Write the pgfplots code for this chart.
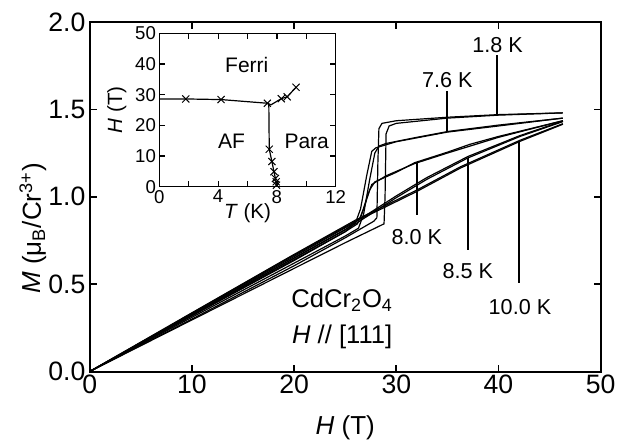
\documentclass[border=0pt]{standalone}
\usepackage{fontspec}
\setmainfont{Liberation Sans}
\usepackage{pgfplots}
\pgfplotsset{compat=1.18}

\begin{document}
\begin{tikzpicture}[font=\fontsize{10.8}{13}\selectfont,
  curve/.style={black, mark=none, line width=0.6pt},
  leader/.style={black, mark=none, line width=1pt}]
\begin{axis}[
  name=main, scale only axis, width=255.5pt, height=174.75pt,
  at={(0pt,0pt)}, anchor=south west,
  xmin=0, xmax=50, ymin=0, ymax=2,
  xtick={0,10,...,50}, ytick={0,0.5,...,2},
  y tick label style={/pgf/number format/.cd, fixed, fixed zerofill, precision=1, /tikz/.cd},
  /pgf/number format/assume math mode=true,
  tick label style={font=\fontsize{13.3}{16}\selectfont},
  xticklabel style={inner sep=1.5pt}, yticklabel style={inner sep=2pt},
  tick align=inside, major tick length=3.5pt,
  axis line style={line width=1pt}, tick style={line width=0.8pt, black},
]
% 1.8 K
\addplot[curve] coordinates {(0,0) (10,0.295) (20,0.59) (25,0.737) (28.8,0.845) (28.9,1.0) (29.0,1.36) (29.3,1.405) (30,1.42) (35,1.45) (40,1.467) (46.3,1.48)};
\addplot[curve] coordinates {(46.3,1.48) (40,1.47) (35,1.455) (30,1.435) (28.6,1.42) (28.3,1.39) (28.2,1.2) (28.1,0.88) (27.8,0.86) (25,0.765) (20,0.605) (10,0.3) (0,0)};
% 7.6 K
\addplot[curve] coordinates {(0,0) (10,0.31) (20,0.62) (25,0.775) (26.3,0.82) (26.8,0.9) (27.4,1.1) (27.9,1.25) (28.3,1.29) (29,1.305) (32,1.34) (35.1,1.374) (40,1.41) (46.3,1.45)};
\addplot[curve] coordinates {(46.3,1.45) (40,1.405) (35,1.37) (30,1.315) (28,1.28) (27.6,1.26) (27.1,1.12) (26.5,0.93) (26,0.85) (25,0.8) (20,0.635) (10,0.318) (0,0)};
% 8.0 K
\addplot[curve] coordinates {(0,0) (10,0.32) (20,0.64) (25,0.8) (26.2,0.845) (26.8,0.93) (27.4,1.04) (27.9,1.085) (30,1.14) (31.8,1.195) (35,1.255) (37.2,1.30) (40,1.345) (46.3,1.435)};
\addplot[curve] coordinates {(46.3,1.435) (40,1.34) (35,1.25) (31.8,1.19) (29,1.12) (27.6,1.07) (27.1,0.99) (26.5,0.88) (25,0.81) (20,0.648) (10,0.324) (0,0)};
% 8.5 K
\addplot[curve] coordinates {(0,0) (10,0.325) (20,0.65) (26,0.845) (27.2,0.89) (30,0.995) (33,1.1) (37,1.222) (42.1,1.345) (46.3,1.43)};
\addplot[curve] coordinates {(46.3,1.433) (42.1,1.35) (37,1.23) (33,1.11) (30,1.005) (27.2,0.9) (26,0.855) (20,0.658) (10,0.329) (0,0)};
% 10.0 K
\addplot[curve] coordinates {(0,0) (10,0.333) (20,0.665) (26,0.86) (28,0.915) (32,1.03) (36.3,1.165) (42.1,1.317) (46.3,1.415)};
\addplot[curve] coordinates {(46.3,1.418) (42.1,1.323) (36.3,1.172) (32,1.038) (28,0.923) (26,0.866) (20,0.67) (10,0.336) (0,0)};
% label leaders
\addplot[leader] coordinates {(39.9,1.467) (39.9,1.81)};
\addplot[leader] coordinates {(35.0,1.374) (35.0,1.607)};
\addplot[leader] coordinates {(32.0,1.197) (32.0,0.897)};
\addplot[leader] coordinates {(37.0,1.222) (37.0,0.696)};
\addplot[leader] coordinates {(42.05,1.317) (42.05,0.507)};
\node at (axis cs:39.9,1.87) {1.8 K};
\node at (axis cs:35.0,1.67) {7.6 K};
\node at (axis cs:32.0,0.772) {8.0 K};
\node at (axis cs:37.0,0.572) {8.5 K};
\node at (axis cs:42.1,0.37) {10.0 K};
\node[font=\fontsize{12.8}{15}\selectfont] at (axis cs:24.7,0.41) {CdCr\textsubscript{2}O\textsubscript{4}};
\node[font=\fontsize{12.8}{15}\selectfont] at (axis cs:24.7,0.198) {\textit{H} // [111]};
\end{axis}
% main axis labels
\node[font=\fontsize{13}{15.6}\selectfont] at (127.75pt,-28.3pt) {\textit{H} (T)};
\node[font=\fontsize{13}{15.6}\selectfont, rotate=90] at (-28.4pt,71.6pt)
  {\textit{M} (μ\textsubscript{B}/Cr\textsuperscript{3+})};

\begin{axis}[
  at={(34.8pt,92.4pt)}, anchor=south west,
  scale only axis, width=88.2pt, height=76.7pt,
  xmin=0, xmax=12, ymin=0, ymax=50,
  xtick={0,4,8,12}, minor xtick={2,6,10}, ytick={0,10,...,50},
  tick align=inside, major tick length=3pt, minor tick length=3pt,
  axis line style={line width=0.7pt}, tick style={line width=0.6pt, black},
  axis background/.style={fill=white},
  /pgf/number format/assume math mode=true,
  tick label style={font=\fontsize{9.3}{11}\selectfont},
  xticklabel style={inner sep=1.5pt}, yticklabel style={inner sep=1.5pt},
]
\addplot[curve] coordinates {(0,28.6) (1.8,28.6) (4.2,28.4) (7.35,27.2) (7.6,26.7) (8.3,28.7) (8.7,29.3) (9.3,32.4)};
\addplot[curve] coordinates {(7.45,27.0) (7.48,12.2) (7.66,8.2) (7.8,4.9) (7.9,2.7) (7.95,1.6) (7.97,0.5)};
\addplot[black, only marks, mark=x, mark size=2.5pt, line width=0.5pt] coordinates {(1.8,28.6) (4.2,28.4) (7.35,27.2) (8.3,28.7) (8.7,29.3) (9.3,32.4) (7.48,12.2) (7.66,8.2) (7.8,4.9) (7.9,2.7) (7.95,1.6) (7.97,0.5)};
\node[font=\fontsize{10.5}{12.6}\selectfont] at (axis cs:5.95,39.7) {Ferri};
\node[font=\fontsize{10.5}{12.6}\selectfont] at (axis cs:4.92,14.7) {AF};
\node[font=\fontsize{10.5}{12.6}\selectfont] at (axis cs:10.03,14.7) {Para};
\end{axis}
% inset axis labels
\node[font=\fontsize{10.3}{12}\selectfont] at (78.9pt,79.3pt) {\textit{T} (K)};
\node[font=\fontsize{10.3}{12}\selectfont, rotate=90] at (13.5pt,130.75pt) {\textit{H} (T)};
\pgfresetboundingbox
\path (-44.85pt,-36.75pt) rectangle (268.15pt,185.75pt);
\end{tikzpicture}
\end{document}
